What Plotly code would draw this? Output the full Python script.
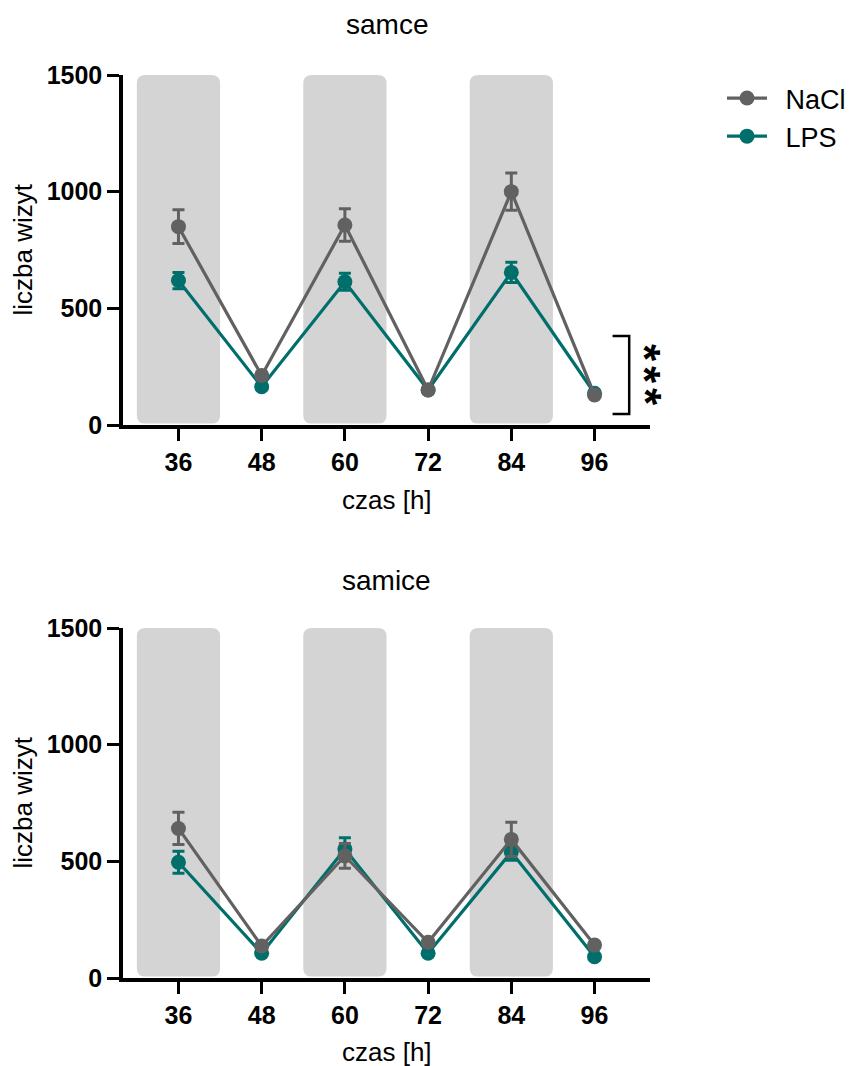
import plotly.graph_objects as go

# ---- data ----
hours = [36, 48, 60, 72, 84, 96]
tick_vals = [36, 48, 60, 72, 84, 96]
tick_text = ["36", "48", "60", "72", "84", "96"]

# samce (males)
m_nacl = [850, 212, 857, 150, 1000, 129]
m_nacl_sem = [72, 15, 70, 12, 80, 10]
m_lps = [619, 164, 614, 150, 654, 136]
m_lps_sem = [35, 12, 36, 10, 43, 10]

# samice (females)
f_nacl = [641, 137, 523, 153, 594, 141]
f_nacl_sem = [69, 12, 53, 12, 73, 12]
f_lps = [496, 106, 553, 106, 540, 91]
f_lps_sem = [47, 8, 48, 8, 35, 8]

dark_start = [30, 54, 78]
dark_end = [42, 66, 90]

colors = {"NaCl": "#616161", "LPS": "#006f6b"}

W, H = 854, 1066
X_DOM = [123 / W, 650 / W]
TOP_DOM = [1 - 425 / H, 1 - 75 / H]
BOT_DOM = [1 - 978 / H, 1 - 628 / H]
X_RANGE = [28, 104]
Y_RANGE = [0, 1500]

fig = go.Figure()

def add_series(xa, ya, name, y, sem, show):
    fig.add_trace(go.Scatter(
        x=hours, y=y, name="\u2002" + name, mode="lines+markers",
        xaxis=xa, yaxis=ya, legendgroup=name, showlegend=show,
        line=dict(color=colors[name], width=3.2),
        marker=dict(color=colors[name], size=15),
        error_y=dict(type="data", array=sem, visible=True,
                     color=colors[name], thickness=3, width=6),
        cliponaxis=False,
    ))

# LPS first so NaCl sits on top
add_series("x", "y", "LPS", m_lps, m_lps_sem, True)
add_series("x", "y", "NaCl", m_nacl, m_nacl_sem, True)
add_series("x2", "y2", "LPS", f_lps, f_lps_sem, False)
add_series("x2", "y2", "NaCl", f_nacl, f_nacl_sem, False)

# rounded dark-phase bands
shapes = []
rx, ry = 1.3, 35
for xr, yr in (("x", "y"), ("x2", "y2")):
    for a, b in zip(dark_start, dark_end):
        y0, y1 = 6, 1500
        path = (f"M {a+rx},{y0} L {b-rx},{y0} Q {b},{y0} {b},{y0+ry} "
                f"L {b},{y1-ry} Q {b},{y1} {b-rx},{y1} "
                f"L {a+rx},{y1} Q {a},{y1} {a},{y1-ry} "
                f"L {a},{y0+ry} Q {a},{y0} {a+rx},{y0} Z")
        shapes.append(dict(type="path", path=path, xref=xr, yref=yr,
                           fillcolor="#d4d4d4", line=dict(width=0),
                           layer="below"))

# significance bracket (top panel)
br_x0, br_x1 = 98.6, 101.0
br_y0, br_y1 = 47, 381
shapes.append(dict(type="path",
                   path=f"M {br_x0},{br_y1} L {br_x1},{br_y1} L {br_x1},{br_y0} L {br_x0},{br_y0}",
                   xref="x", yref="y", line=dict(color="black", width=2.5)))

axis_common = dict(showline=True, linecolor="black", linewidth=3.5,
                   ticks="outside", ticklen=12, tickwidth=3, tickcolor="black",
                   showgrid=False, zeroline=False, automargin=False,
                   tickfont=dict(family="Liberation Sans", size=25, color="black",
                                 weight="bold"))

fig.update_layout(
    width=W, height=H,
    margin=dict(l=0, r=0, t=0, b=0, autoexpand=False),
    paper_bgcolor="white", plot_bgcolor="white",
    shapes=shapes,
    xaxis=dict(domain=X_DOM, range=X_RANGE, tickvals=tick_vals, ticktext=tick_text,
               anchor="y", **axis_common),
    yaxis=dict(domain=TOP_DOM, range=Y_RANGE, tickvals=[0, 500, 1000, 1500],
               anchor="x", **axis_common),
    xaxis2=dict(domain=X_DOM, range=X_RANGE, tickvals=tick_vals, ticktext=tick_text,
                anchor="y2", **axis_common),
    yaxis2=dict(domain=BOT_DOM, range=Y_RANGE, tickvals=[0, 500, 1000, 1500],
                anchor="x2", **axis_common),
    legend=dict(x=722 / W, y=1 - 74 / H, xanchor="left", yanchor="top",
                traceorder="reversed", tracegroupgap=23, itemwidth=40,
                font=dict(family="Liberation Sans", size=27, color="black")),
    font=dict(family="Liberation Sans", color="black"),
)

ann_font = dict(family="Liberation Sans", size=26, color="black")
title_font = dict(family="Liberation Sans", size=28, color="black")
xc = (X_DOM[0] + X_DOM[1]) / 2

def ann(text, x, y, font, angle=0):
    return dict(text=text, x=x, y=y, xref="paper", yref="paper", showarrow=False,
                xanchor="center", yanchor="middle", textangle=angle, font=font)

annotations = [
    ann("samce", xc, 1 - 25 / H, title_font),
    ann("samice", xc, 1 - 580 / H, title_font),
    ann("czas [h]", xc, 1 - 500 / H, ann_font),
    ann("czas [h]", xc, 1 - 1052 / H, ann_font),
    ann("liczba wizyt", 22.5 / W, sum(TOP_DOM) / 2, ann_font, -90),
    ann("liczba wizyt", 22.5 / W, sum(BOT_DOM) / 2, ann_font, -90),
]
star_font = dict(family="Liberation Sans", size=44, color="black", weight="bold")
for sy in (353, 375, 397):
    annotations.append(ann("*", 645 / W, 1 - sy / H, star_font, 90))
fig.update_layout(annotations=annotations)

fig.write_html("out.html")
